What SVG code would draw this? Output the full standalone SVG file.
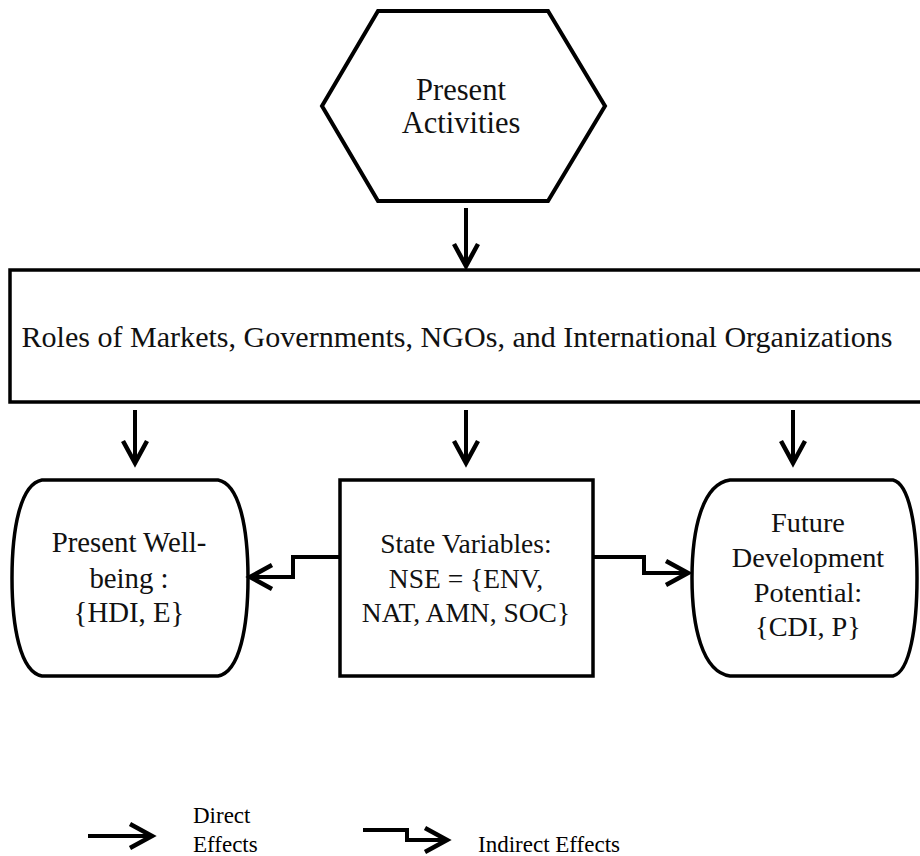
<svg xmlns="http://www.w3.org/2000/svg" width="920" height="856" viewBox="0 0 920 856">
<style>
.shape{fill:#fff;stroke:#000;stroke-width:3.5;stroke-linejoin:miter}
.t{font-family:"Liberation Serif","Times New Roman",serif;fill:#111;text-anchor:middle}
.conn{fill:none;stroke:#000;stroke-width:4;stroke-linejoin:miter}
.leg{font-family:"Liberation Serif","Times New Roman",serif;fill:#000;font-size:23px}
</style>
<defs>
<marker id="chev" viewBox="0 0 26 28" refX="23" refY="14" markerWidth="26" markerHeight="28" markerUnits="userSpaceOnUse" orient="auto" overflow="visible">
<path d="M1,2 L23,14 L1,26" fill="none" stroke="#000" stroke-width="4.5" stroke-linejoin="miter"/>
</marker>
</defs>
<rect width="920" height="856" fill="#fff"/>

<g id="present-activities">
<polygon class="shape" points="378,11 548,11 605,106 548,201 378,201 322,106" style="stroke-width:4"/>
<text class="t" font-size="30.5"><tspan x="461" y="100">Present</tspan><tspan x="461" y="133">Activities</tspan></text>
</g>

<g id="roles">
<rect class="shape" x="10" y="270" width="914" height="132"/>
<text class="t" font-size="30" x="457" y="347" textLength="871" lengthAdjust="spacingAndGlyphs">Roles of Markets, Governments, NGOs, and International Organizations</text>
</g>

<g id="present-wellbeing">
<path class="shape" d="M42,480 H218 C240,484 248,530 248,578 C248,626 240,672 218,676 H42 C20,672 12,626 12,578 C12,530 20,484 42,480 Z"/>
<text class="t" font-size="28.8"><tspan x="129" y="552">Present Well-</tspan><tspan x="129" y="588">being :</tspan><tspan x="129" y="622">{HDI, E}</tspan></text>
</g>

<g id="state-variables">
<rect class="shape" x="340" y="480" width="253" height="196"/>
<text class="t" font-size="27.5"><tspan x="466" y="553">State Variables:</tspan><tspan x="466" y="588">NSE = {ENV,</tspan><tspan x="466" y="622">NAT, AMN, SOC}</tspan></text>
</g>

<g id="future-potential">
<path class="shape" d="M730,480 H893 C910,484 917,530 917,578 C917,626 910,672 893,676 H730 C702,672 692,626 692,578 C692,530 702,484 730,480 Z"/>
<text class="t" font-size="28.3"><tspan x="808" y="532">Future</tspan><tspan x="808" y="567">Development</tspan><tspan x="808" y="602">Potential:</tspan><tspan x="808" y="636">{CDI, P}</tspan></text>
</g>

<g id="connectors">
<path class="conn" d="M466,208 V266" marker-end="url(#chev)"/>
<path class="conn" d="M135,410 V463" marker-end="url(#chev)"/>
<path class="conn" d="M466,410 V463" marker-end="url(#chev)"/>
<path class="conn" d="M793,410 V463" marker-end="url(#chev)"/>
<path class="conn" d="M340,557 H293 V577 H250" marker-end="url(#chev)"/>
<path class="conn" d="M593,557 H644 V573 H688" marker-end="url(#chev)"/>
</g>

<g id="legend">
<path class="conn" d="M88,836 H152" marker-end="url(#chev)"/>
<text class="leg"><tspan x="193" y="823">Direct</tspan><tspan x="193" y="852">Effects</tspan></text>
<path class="conn" d="M363,830 H407 V840 H447" marker-end="url(#chev)"/>
<text class="leg" x="478" y="852" font-size="22.5">Indirect Effects</text>
</g>
</svg>
